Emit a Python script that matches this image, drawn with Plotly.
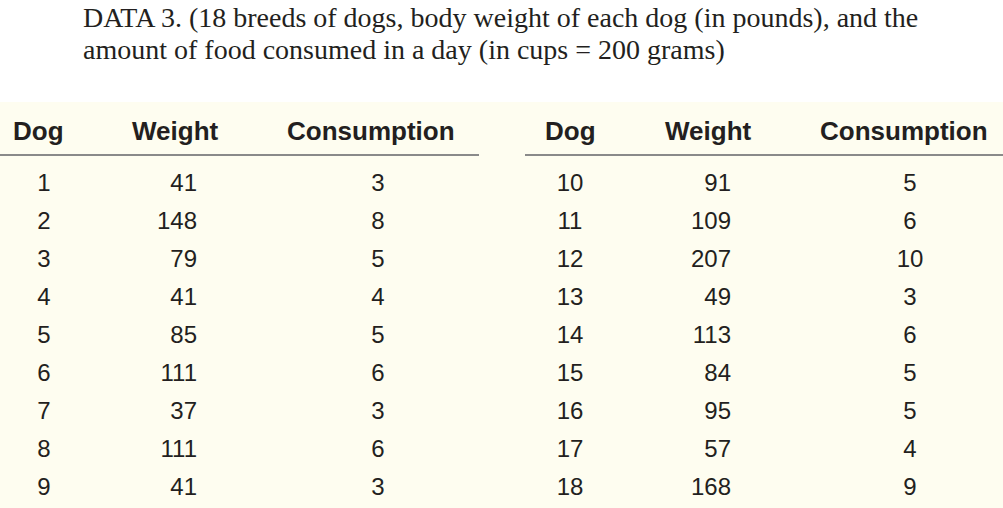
import plotly.graph_objects as go

# data
dogs_left = [1, 2, 3, 4, 5, 6, 7, 8, 9]
weight_left = [41, 148, 79, 41, 85, 111, 37, 111, 41]
cons_left = [3, 8, 5, 4, 5, 6, 3, 6, 3]

dogs_right = [10, 11, 12, 13, 14, 15, 16, 17, 18]
weight_right = [91, 109, 207, 49, 113, 84, 95, 57, 168]
cons_right = [5, 6, 10, 3, 6, 5, 5, 4, 9]

headers = ["Dog", "Weight", "Consumption"]
title_lines = [
    "DATA 3. (18 breeds of dogs, body weight of each dog (in pounds), and the",
    "amount of food consumed in a day (in cups = 200 grams)",
]

W, H = 1003, 508
ROW0, ROWH = 185, 38  # pixel y of first row, row pitch
CREAM = "#fefdf0"
INK = "#231f20"
BODY_FONT = dict(family="Liberation Sans, Arial, sans-serif", size=24, color=INK)


def py(px):
    # pixel y -> row units
    return (px - ROW0) / ROWH


rows = list(range(len(dogs_left)))

fig = go.Figure()

# column x positions (pixels) and alignment
cols = [
    (44, dogs_left, "middle center"),
    (197, weight_left, "middle left"),
    (378, cons_left, "middle center"),
    (570, dogs_right, "middle center"),
    (731, weight_right, "middle left"),
    (910, cons_right, "middle center"),
]
for x, vals, pos in cols:
    fig.add_trace(go.Scatter(
        x=[x] * len(vals), y=rows, mode="text",
        text=[str(v) for v in vals], textposition=pos,
        textfont=BODY_FONT, hoverinfo="skip", showlegend=False,
    ))

# headers
head_x = [38, 175, 371, 570, 708, 904]
for i, hx in enumerate(head_x):
    fig.add_annotation(
        x=hx, y=py(131), text="<b>%s</b>" % headers[i % 3], showarrow=False,
        xanchor="center", yanchor="middle",
        font=dict(family="Liberation Sans, Arial, sans-serif", size=26, color=INK),
    )

# title
for i, line in enumerate(title_lines):
    fig.add_annotation(
        x=81, y=py(17 + 32 * i), text=line, showarrow=False,
        xanchor="left", yanchor="middle",
        font=dict(family="Liberation Serif, Times New Roman, serif", size=28, color=INK),
    )

shapes = [
    dict(type="rect", xref="paper", yref="paper", x0=0, x1=1, y0=0, y1=1 - 102 / H,
         fillcolor=CREAM, line_width=0, layer="below"),
    dict(type="line", xref="x", yref="y", x0=0, x1=479, y0=py(155), y1=py(155),
         line=dict(color="#8a8a8a", width=2)),
    dict(type="line", xref="x", yref="y", x0=525, x1=W, y0=py(155), y1=py(155),
         line=dict(color="#8a8a8a", width=2)),
]

fig.update_layout(
    width=W, height=H,
    margin=dict(l=0, r=0, t=0, b=0),
    paper_bgcolor="white", plot_bgcolor="rgba(0,0,0,0)",
    shapes=shapes,
    xaxis=dict(range=[0, W], visible=False, fixedrange=True),
    yaxis=dict(range=[py(H), py(0)], visible=False, fixedrange=True),
)

fig.write_html("out.html", config={"displayModeBar": False},
               post_script="document.body.style.margin='0';")
